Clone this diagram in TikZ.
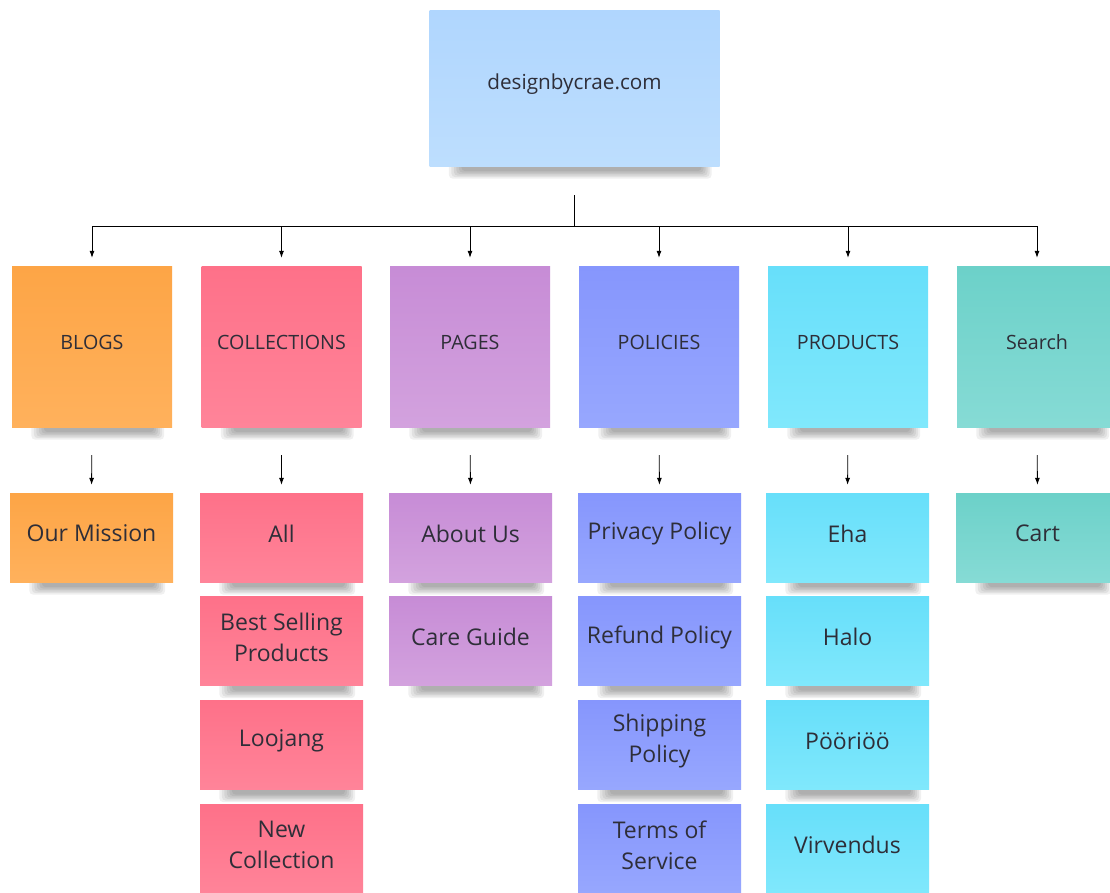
\documentclass[tikz,border=0pt]{standalone}
\usepackage{fontspec}
\setmainfont{Open Sans}
\usetikzlibrary{arrows.meta,backgrounds}

\definecolor{txt}{HTML}{2E2E38}
\definecolor{rootA}{HTML}{B0D6FE}\definecolor{rootB}{HTML}{BDDEFE}
\definecolor{orA}{HTML}{FDA546}\definecolor{orB}{HTML}{FFB15C}
\definecolor{pkA}{HTML}{FE7189}\definecolor{pkB}{HTML}{FF8499}
\definecolor{liA}{HTML}{C78CD6}\definecolor{liB}{HTML}{D3A2DE}
\definecolor{peA}{HTML}{8696FD}\definecolor{peB}{HTML}{97A7FE}
\definecolor{cyA}{HTML}{67DFFA}\definecolor{cyB}{HTML}{80E8FC}
\definecolor{teA}{HTML}{6CD1C9}\definecolor{teB}{HTML}{86DBD5}

\tikzset{
  note/.style={draw=none, inner sep=0pt},
  notetext/.style={text=txt, align=center, inner sep=0pt, yshift=4pt},
  toptext/.style={notetext, font=\fontsize{20.7}{26}\selectfont},
  cattext/.style={notetext, font=\fontsize{19.7}{24}\selectfont},
  leaftext/.style={notetext, font=\fontsize{23}{31}\selectfont},
  topnote/.style={note, minimum width=290pt, minimum height=156pt,
    top color=rootA, bottom color=rootB},
  catnote/.style={note, minimum width=160pt, minimum height=161pt},
  leafnote/.style={note, minimum width=163pt, minimum height=89pt},
  cOr/.style={top color=orA, bottom color=orB},
  cPk/.style={top color=pkA, bottom color=pkB},
  cLi/.style={top color=liA, bottom color=liB},
  cPe/.style={top color=peA, bottom color=peB},
  cCy/.style={top color=cyA, bottom color=cyB},
  cTe/.style={top color=teA, bottom color=teB},
  arr/.style={draw=black, line width=0.8pt, -{Latex[length=7pt,width=5pt]}},
}

% #1 colour style, #2 name, #3 position, #4 text
\newcommand\mkcat[4]{\node[catnote,#1,label={[cattext]center:{#4}}] (#2) at (#3) {};}
\newcommand\mkleaf[4]{\node[leafnote,#1,label={[leaftext]center:{#4}}] (#2) at (#3) {};}

\newcommand\noteshadow[1]{%
  \foreach \i in {0,...,5}{%
    \fill[black, opacity=0.06, rounded corners=4pt]
      ([xshift=32pt-\i*2.5pt, yshift=10pt]#1.south west) rectangle
      ([xshift=-18pt+\i*2pt, yshift=-5pt-\i*1.5pt]#1.south east);
  }}

\begin{document}
\begin{tikzpicture}[x=1pt,y=-1pt]
\useasboundingbox (0,0) rectangle (1110,892);

\node[topnote,label={[toptext]center:designbycrae.com}] (root) at (574.5,88) {};

\mkcat{cOr}{b1}{92,346.5}{BLOGS}
\mkcat{cPk}{b2}{281.5,346.5}{COLLECTIONS}
\mkcat{cLi}{b3}{470,346.5}{PAGES}
\mkcat{cPe}{b4}{659,346.5}{POLICIES}
\mkcat{cCy}{b5}{848,346.5}{PRODUCTS}
\mkcat{cTe}{b6}{1037,346.5}{Search}

\mkleaf{cOr}{l11}{91.5,537.5}{Our Mission}

\mkleaf{cPk}{l21}{281.5,537.5}{All}
\mkleaf{cPk}{l22}{281.5,641}{Best Selling\\Products}
\mkleaf{cPk}{l23}{281.5,745}{Loojang}
\mkleaf{cPk}{l24}{281.5,849}{New\\Collection}

\mkleaf{cLi}{l31}{470.5,537.5}{About Us}
\mkleaf{cLi}{l32}{470.5,641}{Care Guide}

\mkleaf{cPe}{l41}{659.5,537.5}{Privacy Policy}
\mkleaf{cPe}{l42}{659.5,641}{Refund Policy}
\mkleaf{cPe}{l43}{659.5,745}{Shipping\\Policy}
\mkleaf{cPe}{l44}{659.5,849}{Terms of\\Service}

\mkleaf{cCy}{l51}{847.5,537.5}{Eha}
\mkleaf{cCy}{l52}{847.5,641}{Halo}
\mkleaf{cCy}{l53}{847.5,745}{Pööriöö}
\mkleaf{cCy}{l54}{847.5,849}{Virvendus}

\mkleaf{cTe}{l61}{1037.5,537.5}{Cart}

\begin{pgfonlayer}{background}
  \fill[white] (0,0) rectangle (1110,892);
  \foreach \n in {root,b1,b2,b3,b4,b5,b6,l11,l21,l22,l23,l24,l31,l32,l41,l42,l43,l44,l51,l52,l53,l54,l61}{\noteshadow{\n}}
\end{pgfonlayer}

\coordinate (bus) at ([yshift=-60pt]root.south);
\foreach \c in {b1,b2,b3,b4,b5,b6}{
  \draw[arr, shorten >=8pt] ([yshift=-29pt]root.south) -- (bus) -| (\c.north);
}
\foreach \p/\c in {b1/l11,b2/l21,b3/l31,b4/l41,b5/l51,b6/l61}{
  \draw[arr, shorten <=28pt, shorten >=8pt] (\p.south) -- (\c.north);
}
\end{tikzpicture}
\end{document}
